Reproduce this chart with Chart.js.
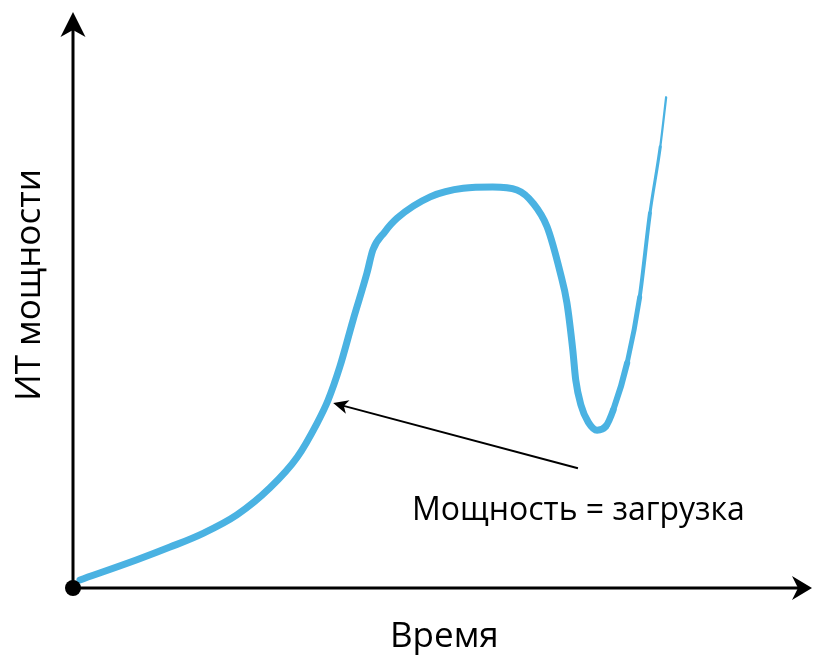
<!DOCTYPE html>
<html>
<head>
<meta charset="utf-8"/>
<title>ИТ мощности</title>
<script src="https://cdn.jsdelivr.net/npm/chart.js@4.4.1/dist/chart.umd.min.js"></script>
<style>
  body { margin: 0; background: #fff; }
</style>
</head>
<body>
<canvas id="capacityChart" width="813" height="655"></canvas>
<script>
// time axis (0..100) and capacity (0..100)
const times = [0.95, 8.7, 13.2, 17.7, 22.3, 26.8, 30.5, 33.2, 34.7, 36.3, 38.1, 40.0, 40.8, 42.4,
  44.1, 48.6, 53.1, 57.1, 60.4, 62.6, 64.5, 66.3, 67.2, 68.0, 68.4, 69.1, 70.1, 71.3, 72.5,
  73.5, 75.4, 77.1, 78.5, 79.9, 80.7];
const capacity = [1.4, 4.9, 7.1, 9.5, 12.7, 17.4, 22.7, 28.6, 32.6, 38.4, 46.5, 54.7, 58.7, 61.8,
  64.2, 67.9, 69.4, 69.6, 69.1, 66.8, 62.7, 54.7, 49.5, 41.3, 36.1, 31.8, 28.8, 27.4, 28.1,
  30.9, 39.1, 50.5, 65.1, 76.6, 85.2];

const xTitle = "Время";
const yTitle = "ИТ мощности";
const noteText = "Мощность = загрузка";
// arrow of the note: from [time, capacity] to [time, capacity]
const noteFrom = [68.7, 20.8];
const noteTo = [35.4, 32.1];

const blue = "#4ab2e2";

// filled arrowhead with a notch
function arrowHead(ctx, tipX, tipY, angle, len, half, notch) {
  ctx.save();
  ctx.translate(tipX, tipY);
  ctx.rotate(angle);
  ctx.beginPath();
  ctx.moveTo(0, 0);
  ctx.lineTo(-len, -half);
  ctx.lineTo(-len + notch, 0);
  ctx.lineTo(-len, half);
  ctx.closePath();
  ctx.fill();
  ctx.restore();
}

const diagramPlugin = {
  id: "diagram",
  beforeDatasetsDraw(chart) {
    const ctx = chart.ctx;
    const xs = chart.scales.x, ys = chart.scales.y;
    const ox = xs.getPixelForValue(0), oy = ys.getPixelForValue(0);
    const right = chart.chartArea.right + 4, top = chart.chartArea.top;
    ctx.save();
    ctx.strokeStyle = "#000";
    ctx.fillStyle = "#000";
    ctx.lineWidth = 3;
    ctx.beginPath();
    ctx.moveTo(ox, oy);
    ctx.lineTo(ox, top + 8);
    ctx.moveTo(ox, oy);
    ctx.lineTo(right - 8, oy);
    ctx.stroke();
    arrowHead(ctx, ox, top, -Math.PI / 2, 25, 12.5, 7);
    arrowHead(ctx, right, oy, 0, 20, 12, 6);
    ctx.restore();
  },
  afterDatasetsDraw(chart) {
    const ctx = chart.ctx;
    const xs = chart.scales.x, ys = chart.scales.y;
    const ox = xs.getPixelForValue(0), oy = ys.getPixelForValue(0);
    ctx.save();
    // origin dot
    ctx.fillStyle = "#000";
    ctx.beginPath();
    ctx.arc(ox, oy, 8, 0, Math.PI * 2);
    ctx.fill();

    // note arrow
    const x1 = xs.getPixelForValue(noteFrom[0]), y1 = ys.getPixelForValue(noteFrom[1]);
    const x2 = xs.getPixelForValue(noteTo[0]), y2 = ys.getPixelForValue(noteTo[1]);
    const ang = Math.atan2(y2 - y1, x2 - x1);
    ctx.strokeStyle = "#000";
    ctx.lineWidth = 2;
    ctx.beginPath();
    ctx.moveTo(x1, y1);
    ctx.lineTo(x2 - 6 * Math.cos(ang), y2 - 6 * Math.sin(ang));
    ctx.stroke();
    arrowHead(ctx, x2, y2, ang, 15, 7, 4);

    // texts
    ctx.fillStyle = "#000";
    ctx.textBaseline = "alphabetic";
    ctx.textAlign = "left";
    ctx.font = "32px 'Open Sans', sans-serif";
    ctx.fillText(noteText, 412, 520);
    ctx.font = "35px 'Open Sans', sans-serif";
    ctx.fillText(xTitle, 390, 647);
    ctx.save();
    ctx.translate(40, 285);
    ctx.rotate(-Math.PI / 2);
    ctx.textAlign = "center";
    ctx.font = "35px 'Open Sans', sans-serif";
    ctx.fillText(yTitle, 0, 0);
    ctx.restore();
    ctx.restore();
  }
};

// line gets thinner on the last rising part
function segWidth(ctx) {
  const t = times[ctx.p0DataIndex];
  if (t < 72) return 7;
  return Math.max(2, 7 - (t - 72) * 0.6);
}

new Chart(document.getElementById("capacityChart"), {
  type: "line",
  data: {
    datasets: [{
      data: times.map((t, i) => ({ x: t, y: capacity[i] })),
      borderColor: blue,
      borderWidth: 7,
      borderCapStyle: "round",
      borderJoinStyle: "round",
      pointRadius: 0,
      fill: false,
      cubicInterpolationMode: "monotone",
      segment: { borderWidth: segWidth }
    }]
  },
  options: {
    responsive: false,
    animation: false,
    devicePixelRatio: 1,
    layout: { padding: { left: 73, right: 5, top: 12, bottom: 67 } },
    scales: {
      x: { type: "linear", min: 0, max: 100, display: false },
      y: { type: "linear", min: 0, max: 100, display: false }
    },
    plugins: { legend: { display: false }, tooltip: { enabled: false } }
  },
  plugins: [diagramPlugin]
});
</script>
</body>
</html>
